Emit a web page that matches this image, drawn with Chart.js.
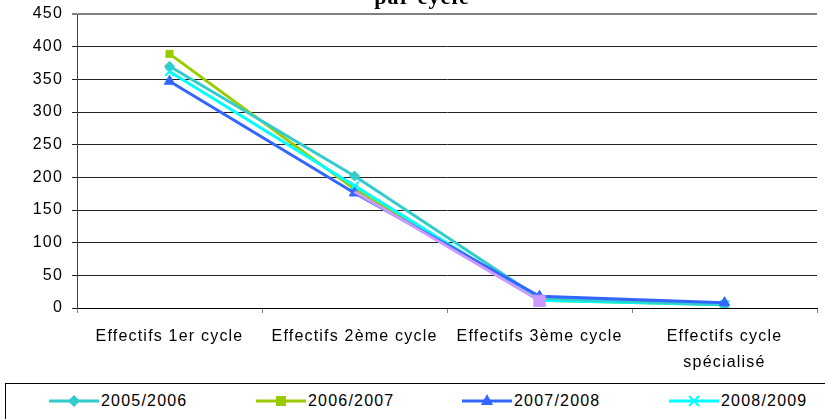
<!DOCTYPE html>
<html>
<head>
<meta charset="utf-8">
<script src="https://cdn.jsdelivr.net/npm/chart.js@4.4.0/dist/chart.umd.min.js"></script>
<style>
  html,body{margin:0;padding:0;background:#fff;width:825px;height:419px;overflow:hidden;}
  #wrap{position:relative;width:825px;height:383px;}
  #c{letter-spacing:1.2px;}
  #legend{position:absolute;left:5px;top:383px;width:840px;height:60px;border:1px solid #000;box-sizing:border-box;
    font-family:"Liberation Sans",Arial,sans-serif;font-size:16px;letter-spacing:1.2px;color:#000;}
  .item{position:absolute;top:5px;height:24px;display:flex;align-items:center;}
  .item svg{margin-right:2px;}
</style>
</head>
<body>
<div id="wrap"><canvas id="c" width="825" height="383"></canvas></div>
<div id="legend"></div>
<script>
const categories = ["Effectifs 1er cycle", "Effectifs 2ème cycle", "Effectifs 3ème cycle", ["Effectifs cycle", "spécialisé"]];
const yTicks = [0, 50, 100, 150, 200, 250, 300, 350, 400, 450];
const seriesNames = ["2005/2006", "2006/2007", "2007/2008", "2008/2009"];
const s2005 = [370, 202, 15, 5];
const s2006 = [389, 182, 12, 5];
const s2007 = [347, 176, 18, 8];
const s2008 = [362, 187, 12, 5];
const sExtra = [null, 178, 11, null];

const colors = ["#33CCCC", "#99CC00", "#3366FF", "#00FFFF", "#CC99FF"];
const styles = ["rectRot", "rect", "triangle", "crossRot", "rect"];
const radii = [5, 5, 6, 6, [0, 0, 8, 0]];
const orders = [2, 4, 1, 3, 0];
const allData = [s2005, s2006, s2007, s2008, sExtra];
const names = seriesNames.concat(["2009/2010"]);

const datasets = allData.map((d, i) => ({
  label: names[i],
  data: d,
  borderColor: colors[i],
  backgroundColor: colors[i],
  borderWidth: 3,
  pointStyle: styles[i],
  pointRadius: radii[i],
  pointHoverRadius: radii[i],
  pointBorderWidth: styles[i] === "crossRot" ? 2 : 1,
  pointBorderColor: colors[i],
  order: orders[i],
  tension: 0,
  spanGaps: false
}));

const spacing = {
  id: "spacing",
  beforeUpdate(chart) { if ("letterSpacing" in chart.ctx) chart.ctx.letterSpacing = "1.2px"; },
  beforeDraw(chart) { if ("letterSpacing" in chart.ctx) chart.ctx.letterSpacing = "1.2px"; },
  afterDraw(chart) {
    const ctx = chart.ctx;
    ctx.save();
    ctx.font = 'bold 22px "Liberation Serif", "Times New Roman", serif';
    ctx.fillStyle = "#000";
    ctx.textAlign = "center";
    ctx.textBaseline = "alphabetic";
    ctx.fillText("par cycle", 422, 4);
    ctx.restore();
  }
};

new Chart(document.getElementById("c"), {
  type: "line",
  data: { labels: categories, datasets },
  plugins: [spacing],
  options: {
    responsive: false,
    animation: false,
    events: [],
    layout: { padding: { top: 14, right: 2, left: 0, bottom: 0 } },
    plugins: { legend: { display: false }, tooltip: { enabled: false }, title: { display: false } },
    scales: {
      x: {
        offset: true,
        grid: { offset: true, drawOnChartArea: false, drawTicks: true, tickLength: 5, color: "#808080" },
        border: { display: true, color: "#000", width: 1 },
        ticks: { color: "#000", padding: 10, maxRotation: 0, autoSkip: false,
          font: { family: '"Liberation Sans", Arial, sans-serif', size: 16, lineHeight: 1.65 } },
        afterFit(scale) { scale.height = 75; }
      },
      y: {
        min: 0, max: 450,
        afterBuildTicks(scale) { scale.ticks = yTicks.map(v => ({ value: v })); },
        grid: { color: (c) => c.tick && c.tick.value === 450 ? "#808080" : "#222", lineWidth: (c) => c.tick && c.tick.value === 450 ? 2 : 1, tickLength: 5, drawTicks: true },
        border: { display: true, color: "#444", width: 1 },
        ticks: { color: "#000", padding: 9,
          font: { family: '"Liberation Sans", Arial, sans-serif', size: 16 } },
        afterFit(scale) { scale.width = 77; scale.paddingTop = 0; scale.paddingBottom = 0; }
      }
    }
  }
});

// HTML legend
const legendPos = [43, 250, 456, 663];
const legend = document.getElementById("legend");
seriesNames.forEach((n, i) => {
  const div = document.createElement("div");
  div.className = "item";
  div.style.left = legendPos[i] + "px";
  const c = colors[i];
  let marker = "";
  if (styles[i] === "rectRot") marker = `<polygon points="25,6 31,12 25,18 19,12" fill="${c}"/>`;
  else if (styles[i] === "rect") marker = `<rect x="20" y="7" width="10" height="10" fill="${c}"/>`;
  else if (styles[i] === "triangle") marker = `<polygon points="25,5 31,16 19,16" fill="${c}"/>`;
  else marker = `<path d="M20,7 L30,17 M30,7 L20,17" stroke="${c}" stroke-width="2"/>`;
  div.innerHTML = `<svg width="50" height="24"><line x1="0" y1="12" x2="50" y2="12" stroke="${c}" stroke-width="3"/>${marker}</svg><span>${n}</span>`;
  legend.appendChild(div);
});
</script>
</body>
</html>
